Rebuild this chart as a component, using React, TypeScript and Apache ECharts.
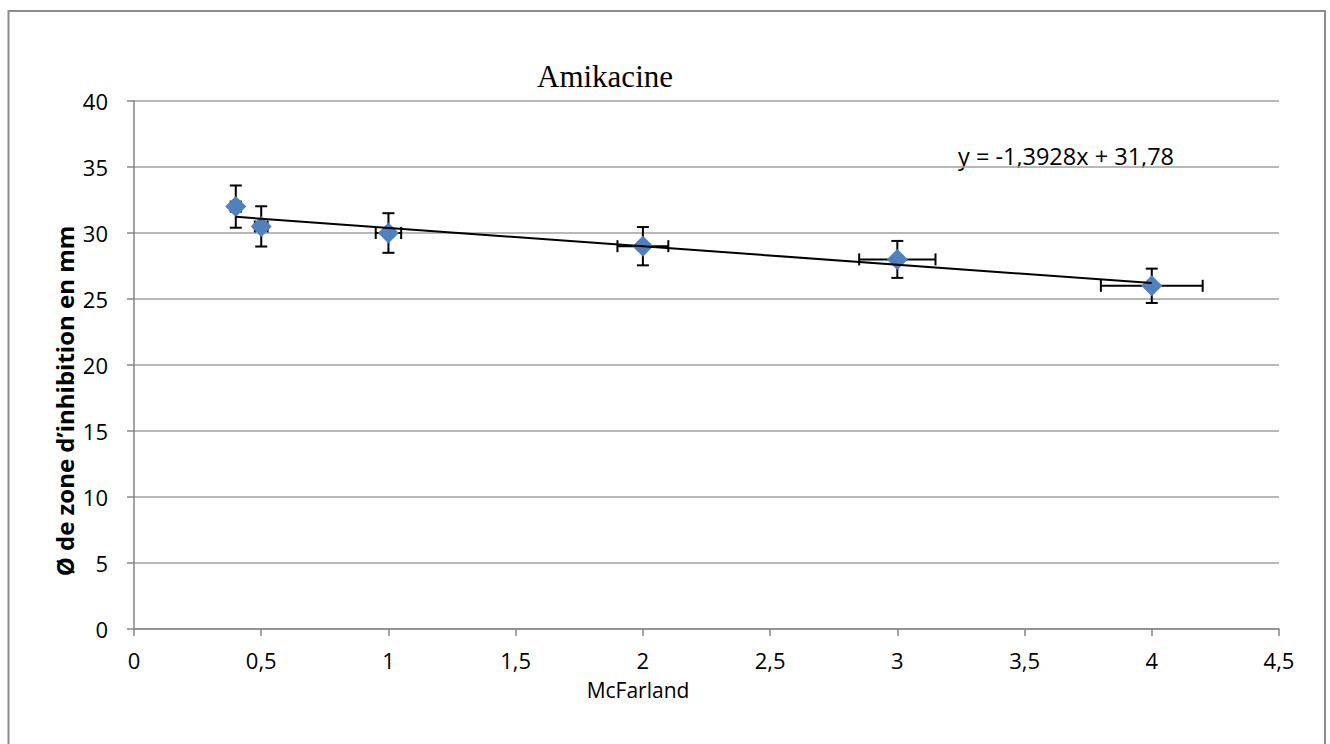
import React, { useEffect, useRef } from "react";
import * as echarts from "echarts";

// McFarland standard vs. inhibition zone diameter (mm)
const mcFarland = [0.4, 0.5, 1, 2, 3, 4];
const zoneDiameter = [32, 30.5, 30, 29, 28, 26];
const xError = [0.02, 0.025, 0.05, 0.1, 0.15, 0.2];
const yError = [1.6, 1.525, 1.5, 1.45, 1.4, 1.3];

// Linear trendline coefficients
const slope = -1.3928;
const intercept = 31.78;

const xTickLabels = ["0", "0,5", "1", "1,5", "2", "2,5", "3", "3,5", "4", "4,5"];

const FONT = "'Open Sans', 'Noto Sans', sans-serif";

export default function App() {
  const ref = useRef<HTMLDivElement>(null);

  useEffect(() => {
    if (!ref.current) return;
    const chart = echarts.init(ref.current, undefined, { renderer: "svg" });

    const points = mcFarland.map((x, i) => [x, zoneDiameter[i]]);
    const errData = mcFarland.map((x, i) => [x, zoneDiameter[i], xError[i], yError[i]]);
    const xMin = Math.min(...mcFarland);
    const xMax = Math.max(...mcFarland);
    const trend = [
      [xMin, slope * xMin + intercept],
      [xMax, slope * xMax + intercept],
    ];
    const eqText = `y = ${String(slope).replace(".", ",")}x + ${String(intercept).replace(".", ",")}`;

    chart.setOption({
      animation: false,
      backgroundColor: "#ffffff",
      grid: { left: 134, right: 51, top: 101, bottom: 115, containLabel: false },
      xAxis: {
        type: "value",
        min: 0,
        max: 4.5,
        interval: 0.5,
        axisLine: { show: true, onZero: false, lineStyle: { color: "#868686", width: 1.5 } },
        axisTick: { show: true, inside: false, length: 7, lineStyle: { color: "#868686", width: 1.5 } },
        splitLine: { show: false },
        axisLabel: {
          color: "#000",
          fontFamily: FONT,
          fontSize: 22,
          lineHeight: 18,
          margin: 22,
          formatter: (v: number) => xTickLabels[Math.round(v / 0.5)] ?? "",
        },
      },
      yAxis: {
        type: "value",
        min: 0,
        max: 40,
        interval: 5,
        axisLine: { show: true, lineStyle: { color: "#868686", width: 1.5 } },
        axisTick: { show: true, inside: false, length: 7, lineStyle: { color: "#868686", width: 1.5 } },
        splitLine: { show: true, lineStyle: { color: "#a0a0a0", width: 1.5 } },
        axisLabel: { color: "#000", fontFamily: FONT, fontSize: 22, margin: 26 },
      },
      graphic: [
        {
          type: "rect",
          shape: { x: 8.5, y: 11, width: 1316.5, height: 745 },
          style: { fill: "none", stroke: "#8c8c8c", lineWidth: 2 },
          silent: true,
          z: -10,
        },
        {
          type: "text",
          x: 605,
          y: 76,
          style: {
            text: "Amikacine",
            fontFamily: "'Liberation Serif', 'Times New Roman', serif",
            fontSize: 31,
            fill: "#000",
            align: "center",
            verticalAlign: "middle",
          },
        },
        {
          type: "text",
          x: 638,
          y: 690,
          style: {
            text: "McFarland",
            fontFamily: FONT,
            fontSize: 21,
            lineHeight: 18,
            fill: "#000",
            align: "center",
            verticalAlign: "middle",
          },
        },
        {
          type: "text",
          x: 64,
          y: 401,
          rotation: Math.PI / 2,
          style: {
            text: "Ø de zone d’inhibition en mm",
            fontFamily: FONT,
            fontSize: 24,
            fontWeight: "bold",
            fill: "#000",
            align: "center",
            verticalAlign: "middle",
          },
        },
        {
          type: "text",
          x: 958,
          y: 156,
          style: {
            text: eqText,
            fontFamily: FONT,
            fontSize: 23.5,
            fill: "#000",
            align: "left",
            verticalAlign: "middle",
          },
        },
      ],
      series: [
        {
          type: "custom",
          name: "errors",
          z: 1,
          data: errData,
          renderItem: (params: any, api: any) => {
            const x = api.value(0);
            const y = api.value(1);
            const ex = api.value(2);
            const ey = api.value(3);
            const c = api.coord([x, y]);
            const top = api.coord([x, y + ey]);
            const bot = api.coord([x, y - ey]);
            const left = api.coord([x - ex, y]);
            const right = api.coord([x + ex, y]);
            const cap = 6;
            const style = { stroke: "#000", lineWidth: 2 };
            return {
              type: "group",
              children: [
                { type: "line", shape: { x1: c[0], y1: top[1], x2: c[0], y2: bot[1] }, style },
                { type: "line", shape: { x1: c[0] - cap, y1: top[1], x2: c[0] + cap, y2: top[1] }, style },
                { type: "line", shape: { x1: c[0] - cap, y1: bot[1], x2: c[0] + cap, y2: bot[1] }, style },
                { type: "line", shape: { x1: left[0], y1: c[1], x2: right[0], y2: c[1] }, style },
                { type: "line", shape: { x1: left[0], y1: c[1] - cap, x2: left[0], y2: c[1] + cap }, style },
                { type: "line", shape: { x1: right[0], y1: c[1] - cap, x2: right[0], y2: c[1] + cap }, style },
              ],
            };
          },
        },
        {
          type: "scatter",
          name: "Ø",
          z: 2,
          data: points,
          symbol: "diamond",
          symbolSize: 21,
          itemStyle: { color: "#4f81bd", opacity: 1 },
        },
        {
          type: "line",
          name: "trend",
          z: 3,
          data: trend,
          symbol: "none",
          lineStyle: { color: "#000", width: 2 },
        },
      ],
    });

    return () => chart.dispose();
  }, []);

  return (
    <div
      ref={ref}
      style={{ position: "absolute", left: 0, top: 0, width: 1330, height: 744 }}
    />
  );
}
